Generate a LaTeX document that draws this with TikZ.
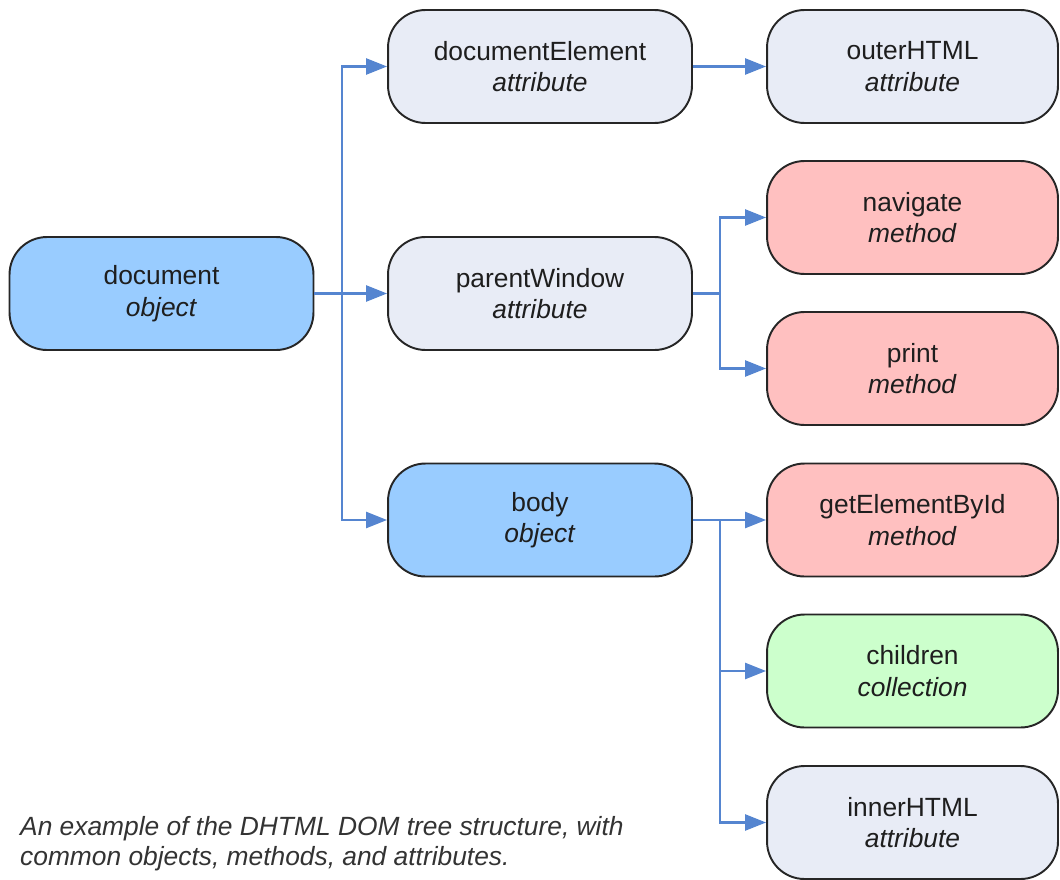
\documentclass[tikz,border=0pt]{standalone}
\usepackage{fontspec}
\setmainfont{Liberation Sans}
\usetikzlibrary{arrows.meta}

\definecolor{objblue}{HTML}{99CCFF}
\definecolor{attrgray}{HTML}{E8ECF6}
\definecolor{methpink}{HTML}{FFC0C0}
\definecolor{collgreen}{HTML}{CCFFCC}
\definecolor{linkblue}{HTML}{5585D0}
\definecolor{textdark}{HTML}{1E1E1E}

\tikzset{
  domnode/.style={draw=black!85, line width=1.1pt, rounded corners=0.75cm,
    minimum height=2.26cm, align=center, text=textdark,
    font=\fontsize{15}{18}\selectfont},
  leftnode/.style={domnode, minimum width=6.08cm},
  rightnode/.style={domnode, minimum width=5.82cm},
  link/.style={draw=linkblue, line width=1.4pt},
  linkarrow/.style={link, -{Triangle[length=0.42cm,width=0.32cm]}}
}

\begin{document}
\begin{tikzpicture}[x=0.02cm, y=-0.02cm]
  \useasboundingbox (0,0) rectangle (1060,879);

  % left column
  \node[leftnode, fill=objblue]   (doc)  at (161.5,293.5) {document\\\textit{object}};
  \node[leftnode, fill=attrgray]  (docel) at (540,66.5)   {documentElement\\\textit{attribute}};
  \node[leftnode, fill=attrgray]  (pwin) at (540,293.5)   {parentWindow\\\textit{attribute}};
  \node[leftnode, fill=objblue]   (body) at (540,520)     {body\\\textit{object}};

  % right column
  \node[rightnode, fill=attrgray]  (outer) at (912.5,66.5)  {outerHTML\\\textit{attribute}};
  \node[rightnode, fill=methpink]  (nav)   at (912.5,217.5) {navigate\\\textit{method}};
  \node[rightnode, fill=methpink]  (prt)   at (912.5,368.5) {print\\\textit{method}};
  \node[rightnode, fill=methpink]  (getid) at (912.5,520)   {getElementById\\\textit{method}};
  \node[rightnode, fill=collgreen] (child) at (912.5,671)   {children\\\textit{collection}};
  \node[rightnode, fill=attrgray]  (inner) at (912.5,822.5) {innerHTML\\\textit{attribute}};

  % branch points
  \coordinate (jdoc)  at (342,293.5);
  \coordinate (jpwin) at (720,293.5);
  \coordinate (jbody) at (720,520);

  % connectors
  \draw[link] (doc.east) -- (jdoc);
  \draw[linkarrow] (jdoc) |- (docel.west);
  \draw[linkarrow] (jdoc) -- (pwin.west);
  \draw[linkarrow] (jdoc) |- (body.west);

  \draw[linkarrow] (docel.east) -- (outer.west);

  \draw[link] (pwin.east) -- (jpwin);
  \draw[linkarrow] (jpwin) |- (nav.west);
  \draw[linkarrow] (jpwin) |- (prt.west);

  \draw[linkarrow] (body.east) -- (getid.west);
  \draw[linkarrow] (jbody) |- (child.west);
  \draw[linkarrow] (jbody) |- (inner.west);

  % caption
  \node[anchor=north west, align=left, text=black!80,
    font=\fontsize{15}{17.3}\selectfont\itshape] (caption) at (14,810)
    {An example of the DHTML DOM tree structure, with\\common objects, methods, and attributes.};
\end{tikzpicture}
\end{document}
